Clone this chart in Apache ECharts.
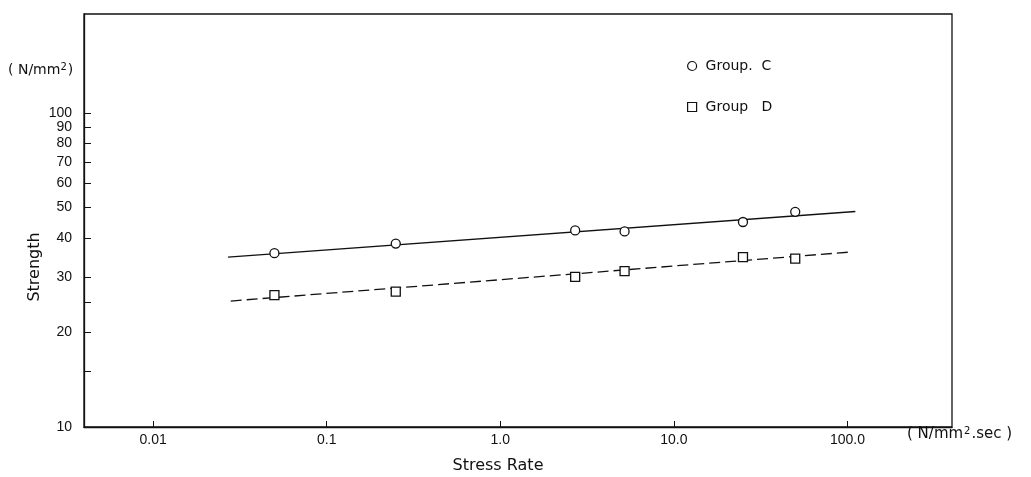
<!DOCTYPE html>
<html>
<head>
<meta charset="utf-8">
<title>Strength vs Stress Rate</title>
<script src="https://cdn.jsdelivr.net/npm/echarts@6/dist/echarts.min.js"></script>
<style>
  html, body { margin: 0; padding: 0; background: #ffffff; }
  #chart { width: 1031px; height: 477px; }
</style>
</head>
<body>
<div id="chart"></div>
<script>
// Measured stress rates (N/mm^2.sec) and strengths (N/mm^2)
const groupCName = 'Group.  C';
const groupDName = 'Group   D';
const stressRateC = [0.05, 0.25, 2.7, 5.2, 25, 50];
const strengthC   = [35.8, 38.4, 42.3, 42.0, 45.0, 48.5];
const stressRateD = [0.05, 0.25, 2.7, 5.2, 25, 50];
const strengthD   = [26.3, 27.0, 30.1, 31.4, 34.8, 34.4];

// Fitted regression lines (end points)
const fitC = [[0.027, 34.8], [111, 48.6]];
const fitD = [[0.028, 25.2], [104, 36.1]];

// Axis ticks and labels
const xTickValues = [0.01, 0.1, 1, 10, 100];
const xTickLabels = ['0.01', '0.1', '1.0', '10.0', '100.0'];
const yTickValues = [10, 15, 20, 25, 30, 40, 50, 60, 70, 80, 90, 100];
const yLabelValues = [10, 20, 30, 40, 50, 60, 70, 80, 90, 100];

const ink = '#111111';
const textFont = 'DejaVu Sans';
const numFont = 'Liberation Sans';

const zip = (xs, ys) => xs.map((x, i) => [x, ys[i]]);

const chart = echarts.init(document.getElementById('chart'), null, { renderer: 'canvas' });

chart.setOption({
  backgroundColor: '#ffffff',
  animation: false,
  grid: {
    left: 84, right: 79, top: 14, bottom: 50,
    show: true, borderColor: ink, borderWidth: 1.3, backgroundColor: 'transparent'
  },
  xAxis: {
    type: 'log',
    logBase: 10,
    min: 0.004,
    max: 400,
    axisLine: { show: true, lineStyle: { color: ink, width: 1.3 } },
    axisTick: { show: true, inside: true, length: 6, customValues: xTickValues, lineStyle: { color: ink, width: 1 } },
    axisLabel: {
      customValues: xTickValues,
      margin: 6,
      color: ink,
      fontFamily: numFont,
      fontSize: 14,
      formatter: v => {
        const i = xTickValues.findIndex(t => Math.abs(Math.log10(t) - Math.log10(v)) < 1e-6);
        return i >= 0 ? xTickLabels[i] : '';
      }
    },
    splitLine: { show: false },
    minorTick: { show: false }
  },
  yAxis: {
    type: 'log',
    logBase: 10,
    min: 10,
    max: 207,
    axisLine: { show: true, lineStyle: { color: ink, width: 1.3 } },
    axisTick: { show: true, inside: true, length: 7, customValues: yTickValues, lineStyle: { color: ink, width: 1 } },
    axisLabel: {
      customValues: yLabelValues,
      margin: 12,
      color: ink,
      fontFamily: numFont,
      fontSize: 14,
      formatter: v => String(Math.round(v))
    },
    splitLine: { show: false },
    minorTick: { show: false }
  },
  legend: {
    orient: 'vertical',
    left: 682,
    top: 54,
    itemGap: 27,
    itemWidth: 9,
    itemHeight: 9,
    textStyle: { color: ink, fontFamily: textFont, fontSize: 14, padding: [0, 0, 0, 4] },
    data: [
      { name: groupCName, icon: 'circle', itemStyle: { color: '#ffffff', borderColor: ink, borderWidth: 1.2 } },
      { name: groupDName, icon: 'rect', itemStyle: { color: '#ffffff', borderColor: ink, borderWidth: 1.2 } }
    ]
  },
  series: [
    {
      name: 'fitC',
      type: 'line',
      data: fitC,
      showSymbol: false,
      silent: true,
      lineStyle: { color: ink, width: 1.3 },
      z: 2
    },
    {
      name: 'fitD',
      type: 'line',
      data: fitD,
      showSymbol: false,
      silent: true,
      lineStyle: { color: ink, width: 1.3, type: [11, 5] },
      z: 2
    },
    {
      name: groupCName,
      type: 'scatter',
      data: zip(stressRateC, strengthC),
      symbol: 'circle',
      symbolSize: 9,
      itemStyle: { color: '#ffffff', borderColor: ink, borderWidth: 1.3, opacity: 1 },
      z: 3
    },
    {
      name: groupDName,
      type: 'scatter',
      data: zip(stressRateD, strengthD),
      symbol: 'rect',
      symbolSize: 9,
      itemStyle: { color: '#ffffff', borderColor: ink, borderWidth: 1.3, opacity: 1 },
      z: 3
    }
  ],
  graphic: [
    {
      type: 'text',
      left: 8,
      top: 62,
      style: {
        text: '( N/mm{sup|2})',
        fill: ink,
        font: '14px ' + textFont,
        rich: { sup: { fontSize: 10, verticalAlign: 'top', padding: [0, 1, 7, 0], fill: ink, fontFamily: textFont } }
      }
    },
    {
      type: 'text',
      x: 35,
      y: 267,
      rotation: Math.PI / 2,
      style: {
        text: 'Strength',
        fill: ink,
        font: '16px ' + textFont,
        align: 'center',
        verticalAlign: 'middle'
      }
    },
    {
      type: 'text',
      x: 498,
      y: 466,
      style: {
        text: 'Stress Rate',
        fill: ink,
        font: '16px ' + textFont,
        align: 'center',
        verticalAlign: 'middle'
      }
    },
    {
      type: 'text',
      left: 907,
      top: 426,
      style: {
        text: '( N/mm{sup|2}.sec )',
        fill: ink,
        font: '15px ' + textFont,
        rich: { sup: { fontSize: 10, verticalAlign: 'top', padding: [0, 1, 7, 1], fill: ink, fontFamily: textFont } }
      }
    }
  ]
});
</script>
</body>
</html>
